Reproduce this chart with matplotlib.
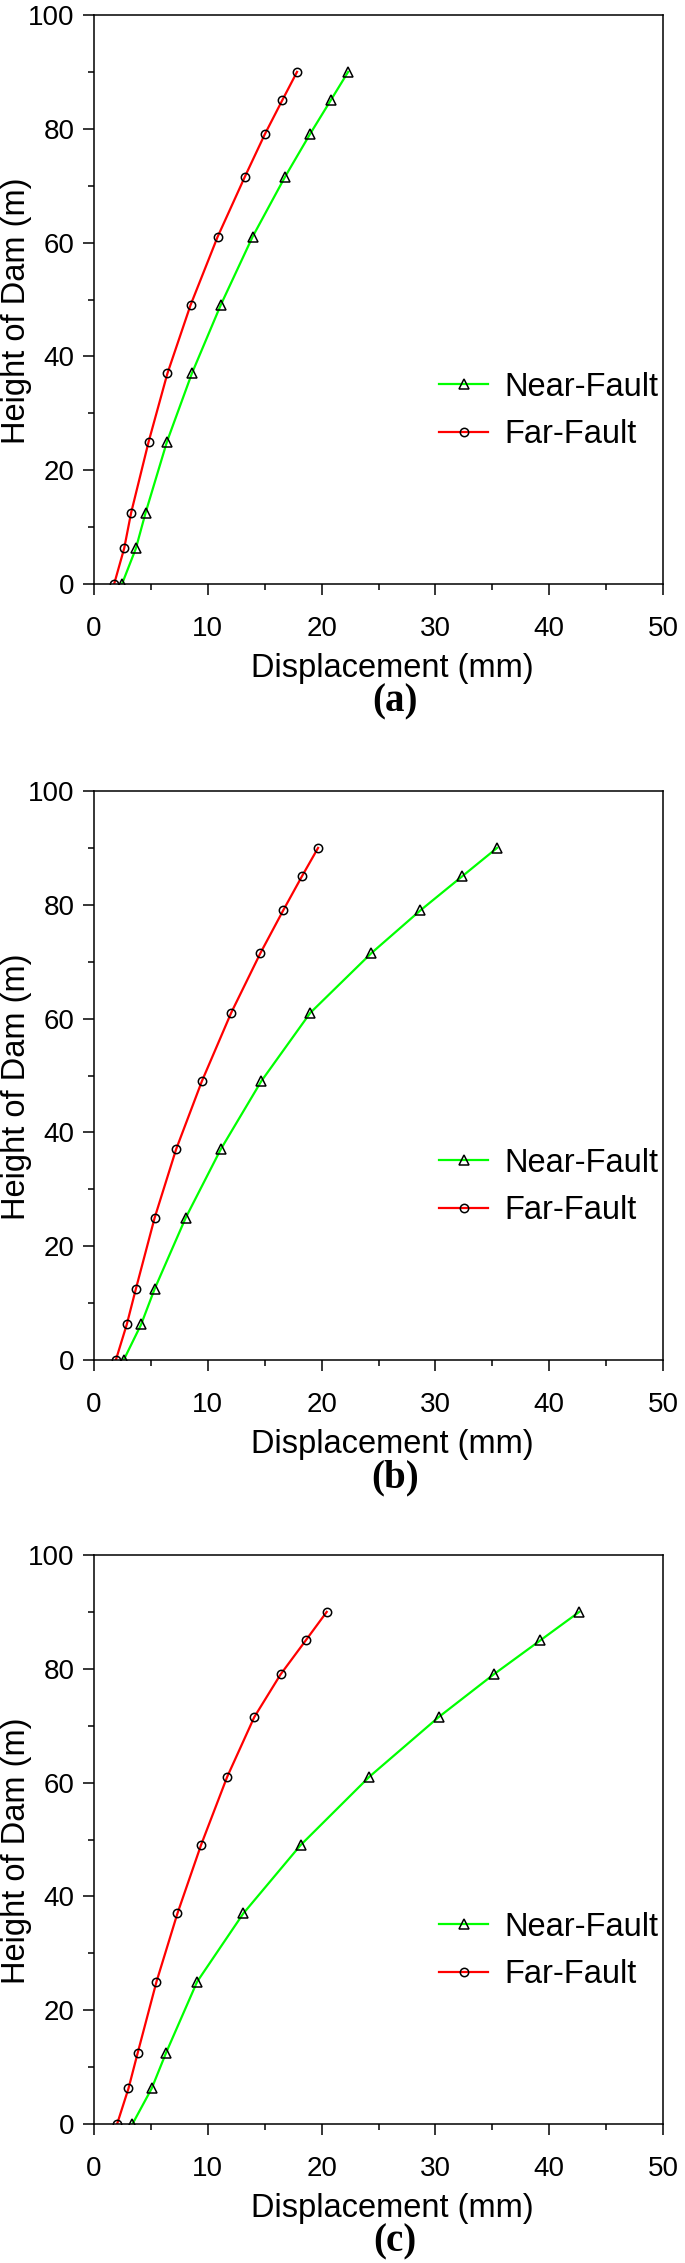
import matplotlib
matplotlib.use("Agg")
import matplotlib.pyplot as plt
from matplotlib.ticker import MultipleLocator

plt.rcParams['font.family'] = ['Liberation Sans', 'DejaVu Sans']

# heights of the nodes along the dam (m)
height = [0, 6.25, 12.5, 25, 37, 49, 61, 71.5, 79, 85, 90]

# displacement (mm) for each panel
near_a = [2.46, 3.68, 4.53, 6.41, 8.6, 11.13, 13.93, 16.77, 18.96, 20.8, 22.33]
far_a = [1.77, 2.65, 3.26, 4.8, 6.45, 8.48, 10.86, 13.24, 15.0, 16.54, 17.84]

near_b = [2.61, 4.14, 5.33, 8.06, 11.13, 14.7, 19.0, 24.37, 28.67, 32.35, 35.42]
far_b = [1.92, 2.88, 3.68, 5.33, 7.21, 9.48, 12.05, 14.62, 16.62, 18.27, 19.69]

near_c = [3.38, 5.07, 6.33, 9.06, 13.12, 18.15, 24.18, 30.28, 35.11, 39.22, 42.64]
far_c = [2.03, 3.03, 3.84, 5.49, 7.33, 9.4, 11.7, 14.08, 16.39, 18.61, 20.45]

panels = [("(a)", near_a, far_a), ("(b)", near_b, far_b), ("(c)", near_c, far_c)]
# axes bottom edge in pixels (from top of the figure)
bottoms_px = [584, 1360, 2124]

W, H = 685, 2263
fig = plt.figure(figsize=(W / 100, H / 100), dpi=100)

for (tag, near, far), bpx in zip(panels, bottoms_px):
    ax = fig.add_axes([94 / W, 1 - bpx / H, 569 / W, 569 / H])
    ax.plot(near, height, color='#00ff00', lw=1.6, marker='^', ms=6.5,
            mfc='none', mec='black', mew=1.1, label='Near-Fault')
    ax.plot(far, height, color='#ff0000', lw=1.6, marker='o', ms=6,
            mfc='none', mec='black', mew=1.1, label='Far-Fault')
    ax.set_xlim(0, 50)
    ax.set_ylim(0, 100)
    ax.xaxis.set_major_locator(MultipleLocator(10))
    ax.xaxis.set_minor_locator(MultipleLocator(5))
    ax.yaxis.set_major_locator(MultipleLocator(20))
    ax.yaxis.set_minor_locator(MultipleLocator(10))
    ax.tick_params(which='major', direction='out', length=8, width=1.1,
                   labelsize=20)
    ax.tick_params(which='minor', direction='out', length=4.5, width=1.1)
    ax.tick_params(axis='x', which='major', pad=15)
    ax.tick_params(axis='y', which='major', pad=6)
    for s in ax.spines.values():
        s.set_linewidth(1.1)
    ax.set_xlabel('Displacement (mm)', fontsize=23.5, labelpad=8, x=0.525)
    ax.set_ylabel('Height of Dam (m)', fontsize=23.5)
    ax.yaxis.set_label_coords((32 - 94) / 569, 0.48)
    ax.legend(loc='center left', bbox_to_anchor=(0.555, 0.304), frameon=False,
              fontsize=23.5, handlelength=1.5, handletextpad=0.5,
              labelspacing=0.5)
    fig.text(395 / W, 1 - (bpx + 118) / H, tag, ha='center', va='center',
             fontsize=28, fontweight='bold', family='Liberation Serif')

fig.savefig('out.png', dpi=100)
